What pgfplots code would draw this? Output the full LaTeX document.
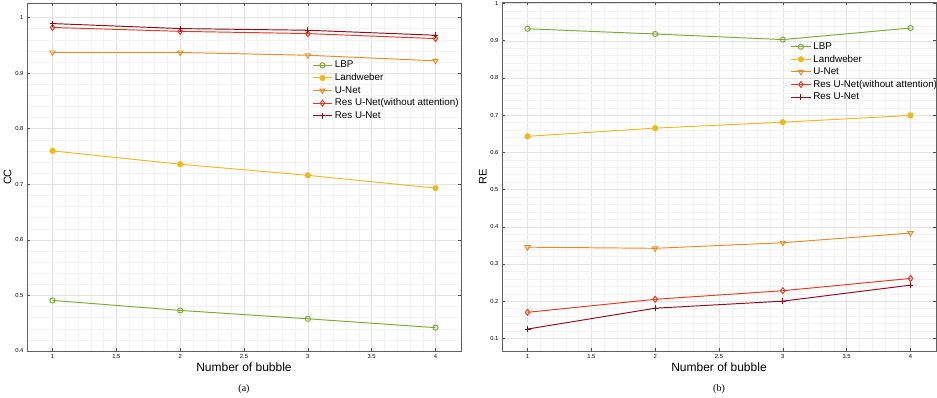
\documentclass[border=0pt]{standalone}
\usepackage{fontspec}
\setmainfont{Liberation Sans}
\newfontfamily\capfont{Liberation Serif}
\usepackage{pgfplots}
\pgfplotsset{compat=1.18}
\definecolor{cLBP}{rgb}{0.47,0.67,0.19}
\definecolor{cLW}{rgb}{0.93,0.72,0.13}
\definecolor{cUN}{rgb}{0.90,0.55,0.15}
\definecolor{cRW}{rgb}{0.90,0.22,0.12}
\definecolor{cRU}{rgb}{0.55,0.05,0.12}
\pgfplotsset{
  myax/.style={
    scale only axis,
    axis line style={gray!75!black},
    tick style={gray!60!black, line width=0.4pt},
    tick align=inside,
    major tick length=3pt,
    minor tick length=0pt,
    grid=both,
    major grid style={gray!22, line width=0.35pt},
    minor grid style={gray!10, line width=0.3pt},
    minor tick num=4,
    xmin=0.8, xmax=4.2,
    xtick={1,1.5,2,2.5,3,3.5,4},
    ticklabel style={font=\fontsize{5.8}{6}\selectfont},
    /pgf/number format/assume math mode=true,
    xlabel={Number of bubble},
    xlabel style={font=\fontsize{12}{13}\selectfont, yshift=3pt},
    ylabel style={font=\fontsize{11}{12}\selectfont, yshift=-3pt},
    legend cell align=left,
    legend style={draw=none, fill=none, font=\fontsize{9.8}{10}\selectfont, row sep=0.2pt, inner sep=1pt},
    legend image code/.code={\draw[mark repeat=2,mark phase=2] plot coordinates {(0cm,0cm) (0.35cm,0cm) (0.7cm,0cm)};},
    every axis plot/.append style={line width=0.95pt},
  },
}
\begin{document}
\begin{tikzpicture}
\useasboundingbox (0,0) rectangle (937pt,397pt);
\begin{axis}[myax, at={(27pt,46pt)}, anchor=south west, width=434pt, height=348pt,
  ymin=0.4, ymax=1.026, ytick={0.4,0.5,0.6,0.7,0.8,0.9,1},
  ylabel={CC},
  legend style={at={(0.654,0.842)}, anchor=north west}]
\addplot[color=cLBP, mark=o, mark size=2.6pt, mark options={solid}] coordinates {(1,0.491) (2,0.473) (3,0.458) (4,0.442)};
\addplot[color=cLW, mark=*, mark size=2.6pt, mark options={fill=cLW}] coordinates {(1,0.760) (2,0.736) (3,0.716) (4,0.693)};
\addplot[color=cUN, mark=triangle, mark size=3pt, mark options={rotate=180}] coordinates {(1,0.937) (2,0.937) (3,0.932) (4,0.922)};
\addplot[color=cRW, mark=diamond, mark size=3pt] coordinates {(1,0.982) (2,0.975) (3,0.971) (4,0.962)};
\addplot[color=cRU, mark=+, mark size=3pt] coordinates {(1,0.989) (2,0.980) (3,0.977) (4,0.968)};
\legend{LBP, Landweber, U-Net, Res U-Net(without attention), Res U-Net}
\end{axis}
\begin{axis}[myax, at={(502pt,46pt)}, anchor=south west, width=434pt, height=349pt,
  ymin=0.066, ymax=1.004, ytick={0.1,0.2,0.3,0.4,0.5,0.6,0.7,0.8,0.9,1},
  ylabel={RE},
  legend style={at={(0.662,0.893)}, anchor=north west}]
\addplot[color=cLBP, mark=o, mark size=2.6pt] coordinates {(1,0.932) (2,0.918) (3,0.903) (4,0.934)};
\addplot[color=cLW, mark=*, mark size=2.6pt, mark options={fill=cLW}] coordinates {(1,0.643) (2,0.665) (3,0.681) (4,0.699)};
\addplot[color=cUN, mark=triangle, mark size=3pt, mark options={rotate=180}] coordinates {(1,0.345) (2,0.342) (3,0.357) (4,0.383)};
\addplot[color=cRW, mark=diamond, mark size=3pt] coordinates {(1,0.170) (2,0.205) (3,0.228) (4,0.261)};
\addplot[color=cRU, mark=+, mark size=3pt] coordinates {(1,0.125) (2,0.181) (3,0.200) (4,0.243)};
\legend{LBP, Landweber, U-Net, Res U-Net(without attention), Res U-Net}
\end{axis}
\node[font=\capfont\fontsize{10}{11}\selectfont] at (244pt,8pt) {(a)};
\node[font=\capfont\fontsize{10}{11}\selectfont] at (719pt,8pt) {(b)};
\end{tikzpicture}
\end{document}
